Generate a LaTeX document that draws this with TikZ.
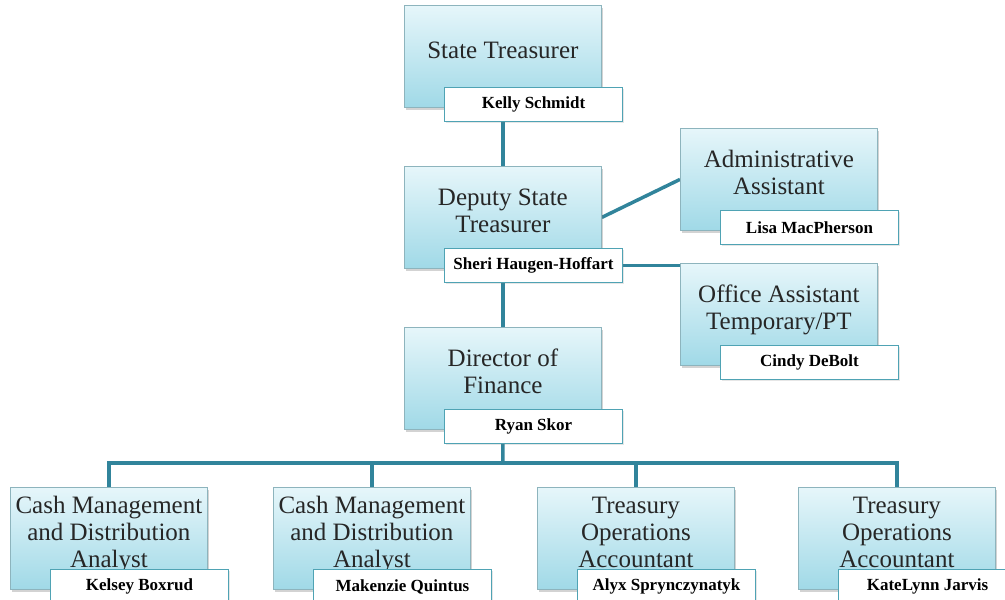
\documentclass[tikz,border=0pt]{standalone}
\usepackage{fontspec}
\setmainfont{Liberation Serif}
\usetikzlibrary{backgrounds,shadows,calc}
\definecolor{lnk}{HTML}{31849B}
\definecolor{boxtop}{HTML}{E6F6FA}
\definecolor{boxbot}{HTML}{A0D9E7}
\definecolor{boxedge}{HTML}{8DB4BD}
\definecolor{nameedge}{HTML}{4FA3B4}
\tikzset{
  rolebox/.style={draw=boxedge, line width=0.8pt, top color=boxtop, bottom color=boxbot,
    minimum width=197pt, minimum height=102pt, inner sep=0pt, anchor=north west,
    drop shadow={shadow xshift=1.5pt, shadow yshift=-2.5pt, opacity=0.35}},
  roletext/.style={font=\fontsize{25}{27}\selectfont, align=center, inner sep=0pt, text=black!85},
  namebox/.style={draw=nameedge, line width=1pt, fill=white, minimum width=178pt,
    minimum height=34pt, inner sep=0pt, anchor=north west,
    font=\fontsize{17}{20}\selectfont\bfseries,
    drop shadow={shadow xshift=1pt, shadow yshift=-1.5pt, opacity=0.2}},
  link/.style={draw=lnk, line width=3.5pt},
}
\newcommand\orgunit[5]{%
  \node[rolebox] (#1) at (#2,#3) {};
  \node[roletext] (#1t) at ($(#1.north)+(0,47.6)$) {\strut #4\strut};
  \node[namebox] (#1n) at ($(#1.north west)+(40,82)$) {#5};
}
\begin{document}
\begin{tikzpicture}[x=1pt,y=-1pt]
\useasboundingbox (0,0) rectangle (1005,600);
\clip (0,0) rectangle (1005,600);
\orgunit{st}{404}{5}{State Treasurer}{Kelly Schmidt}
\orgunit{dp}{404}{166}{Deputy State\\Treasurer}{Sheri Haugen-Hoffart}
\orgunit{df}{404}{327}{Director of\\Finance}{Ryan Skor}
\orgunit{aa}{680}{128}{Administrative\\Assistant}{Lisa MacPherson}
\orgunit{oa}{680}{263}{Office Assistant\\Temporary/PT}{Cindy DeBolt}
\orgunit{ba}{10}{487}{Cash Management\\and Distribution\\Analyst}{Kelsey Boxrud}
\orgunit{bb}{273}{487}{Cash Management\\and Distribution\\Analyst}{Makenzie Quintus}
\orgunit{bc}{537}{487}{Treasury\\Operations\\Accountant}{Alyx Sprynczynatyk}
\orgunit{bd}{798}{487}{Treasury\\Operations\\Accountant}{KateLynn Jarvis}
\begin{scope}[on background layer]
  \coordinate (bus) at (503,463);
  \draw[link] (st.south) -- (dp.north);
  \draw[link] (dp.south) -- (df.north);
  \draw[link] (dp.east) -- (aa.west);
  \draw[link] (dpn.east) -- (dpn.east -| oa.west);
  \draw[link] (df.south) -- (bus);
  \draw[link] (bus) -| (ba.north);
  \draw[link] (bus) -| (bb.north);
  \draw[link] (bus) -| (bc.north);
  \draw[link] (bus) -| (bd.north);
\end{scope}
\end{tikzpicture}
\end{document}
